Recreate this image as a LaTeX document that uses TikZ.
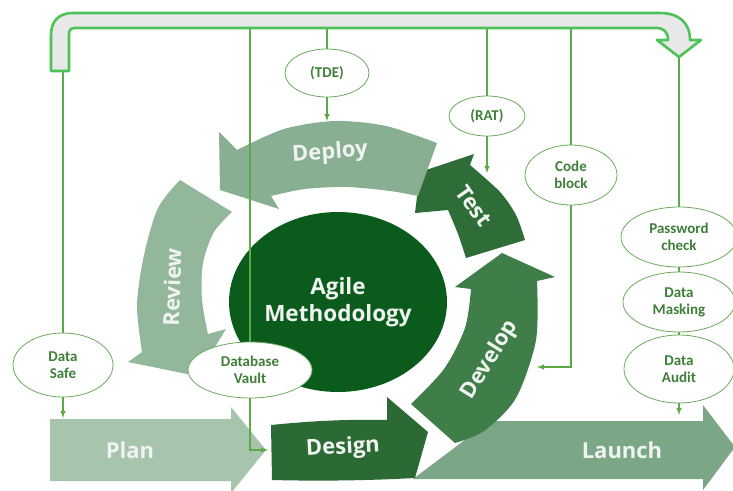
\documentclass[tikz,border=0pt]{standalone}
\usepackage{fontspec}
\setmainfont{Carlito}
\newfontfamily\phasefont{Open Sans}
\usetikzlibrary{shapes.geometric}

\definecolor{framegreen}{HTML}{4CC356}
\definecolor{framefill}{HTML}{E8E8E8}
\definecolor{linkgreen}{HTML}{5BAA47}
\definecolor{notedraw}{HTML}{6BAA5E}
\definecolor{notetext}{HTML}{3F7F3A}
\definecolor{plancol}{HTML}{A7C4AC}
\definecolor{reviewcol}{HTML}{92B79B}
\definecolor{deploycol}{HTML}{88AF91}
\definecolor{testcol}{HTML}{2E6D38}
\definecolor{developcol}{HTML}{3F7E49}
\definecolor{designcol}{HTML}{2C6A35}
\definecolor{launchcol}{HTML}{7CA786}
\definecolor{corecol}{HTML}{0B5B1C}
\definecolor{phasetext}{HTML}{F0F4F0}

\begin{document}
\begin{tikzpicture}[x=1pt,y=-1pt,>=latex]
% Node styles: the small notes and the white labels
\tikzstyle{note node}=[ellipse,draw=notedraw,line width=0.8pt,fill=white,text=notetext,inner sep=0pt,align=center,font=\fontsize{15}{17}\selectfont\bfseries];
\tikzstyle{phase label}=[text=phasetext,inner sep=0pt,font=\phasefont\bfseries\fontsize{22}{26}\selectfont];
\tikzstyle{link}=[draw=linkgreen,line width=1.4pt];
\useasboundingbox (0,0) rectangle (733,490);

% Straight arrows along the bottom
\fill[plancol] (50,419) -- (231,419) -- (231,407) -- (266,450) -- (231,493) -- (231,481) -- (50,481) -- cycle;
\fill[launchcol] (413,479) -- (490,421) -- (703,421) -- (703,405) -- (735,447) -- (703,490) -- (703,479) -- cycle;
\fill[designcol] (271,425) .. controls (310,421) and (350,419) .. (387,420) -- (387,397) -- (428,432) -- (415,478) .. controls (360,481) and (310,481) .. (272,480) -- cycle;

% The cycle
\fill[developcol] plot[smooth] coordinates {(537,281) (536,340) (516,398) (484,431) (455,443)} -- (411,404) -- plot[smooth] coordinates {(411,404) (444,369) (465,328) (471,289)} -- (455,287) -- (502,253) -- (555,277) -- cycle;
\fill[testcol] plot[smooth] coordinates {(470,165) (500,192) (516,215) (525,240)} -- (466,258) -- plot[smooth] coordinates {(466,258) (458,234) (448,210)} -- (415,213) -- (420,172) -- (474,154) -- cycle;
\fill[deploycol] plot[smooth] coordinates {(437,143) (386,126) (335,121) (284,129) (237,150)} -- (219,132) -- (220,190) -- (279,209) -- (271,196) -- plot[smooth] coordinates {(271,196) (305,189) (347,187) (390,191) (418,196)} -- cycle;
\fill[reviewcol] plot[smooth] coordinates {(180,180) (158,208) (144,255) (137,305) (142,352)} -- (128,362) -- (197,376) -- (226,329) -- (208,334) -- plot[smooth] coordinates {(208,334) (202,300) (203,263) (214,232) (232,212)} -- cycle;

\node(core)[ellipse,fill=corecol,minimum width=203pt,minimum height=180pt,text=phasetext,align=center,font=\phasefont\bfseries\fontsize{22.5}{27}\selectfont] at (338,302) {Agile\\Methodology};

% Labels on the arrows
\node(plan)[phase label] at (130,450) {Plan};
\node(design)[phase label,rotate=3] at (343,448) {Design};
\node(develop)[phase label,rotate=58] at (490,360) {Develop};
\node(test)[phase label,rotate=-55] at (474,206) {Test};
\node(deploy)[phase label,rotate=4] at (330,153) {Deploy};
\node(review)[phase label,rotate=88] at (172,287) {Review};
\node(launch)[phase label] at (622,450) {Launch};

% Notes
\node(tde)[note node,minimum width=84pt,minimum height=48pt] at (327,73) {(TDE)};
\node(rat)[note node,minimum width=76pt,minimum height=40pt] at (487,116) {(RAT)};
\node(code)[note node,minimum width=92pt,minimum height=60pt] at (571,175) {Code\\block};
\node(check)[note node,minimum width=116pt,minimum height=60pt] at (679,237) {Password\\check};
\node(mask)[note node,minimum width=112pt,minimum height=60pt] at (679,302) {Data\\Masking};
\node(audit)[note node,minimum width=110pt,minimum height=68pt] at (679,369) {Data\\Audit};
\node(safe)[note node,minimum width=100pt,minimum height=64pt] at (63,365) {Data\\Safe};
\node(vault)[note node,minimum width=124pt,minimum height=56pt] at (250,370) {Database\\Vault};

% Where the links leave the frame and where they end
\coordinate(safe in) at (63,71);
\coordinate(vault in) at (235,28);
\coordinate(tde in) at (327,28);
\coordinate(rat in) at (487,28);
\coordinate(code in) at (601,28);
\coordinate(check in) at (679,57);
\coordinate(plan in) at (63,418);
\coordinate(design in) at (268,450);
\coordinate(deploy in) at (327,121);
\coordinate(test in) at (487,173);
\coordinate(develop in) at (537,367);
\coordinate(launch in) at (679,415);

\draw[link](safe in)--(safe);
\draw[link,->](safe)--(plan in);
\draw[link](vault in)-|(vault);
\draw[link,->](vault)|-(design in);
\draw[link](tde in)--(tde);
\draw[link,->](tde)--(deploy in);
\draw[link](rat in)--(rat);
\draw[link,->](rat)--(test in);
\draw[link](code in)-|(code);
\draw[link,->](code)|-(develop in);
\draw[link](check in)--(check);
\draw[link](check)--(mask);
\draw[link](mask)--(audit);
\draw[link,->](audit)--(launch in);

% The frame arrow over the top
\filldraw[fill=framefill,draw=framegreen,line width=2.6pt,line join=round]
(51,71) -- (51,35) .. controls (51,22) and (58,13) .. (73,13) -- (660,13) .. controls (678,13) and (690,22) .. (690,40) -- (701,40) -- (679,57) -- (657,40) -- (668,40) .. controls (668,32) and (664,28) .. (656,28) -- (75,28) .. controls (71,28) and (69,30) .. (69,34) -- (69,71) -- cycle;
\end{tikzpicture}
\end{document}
